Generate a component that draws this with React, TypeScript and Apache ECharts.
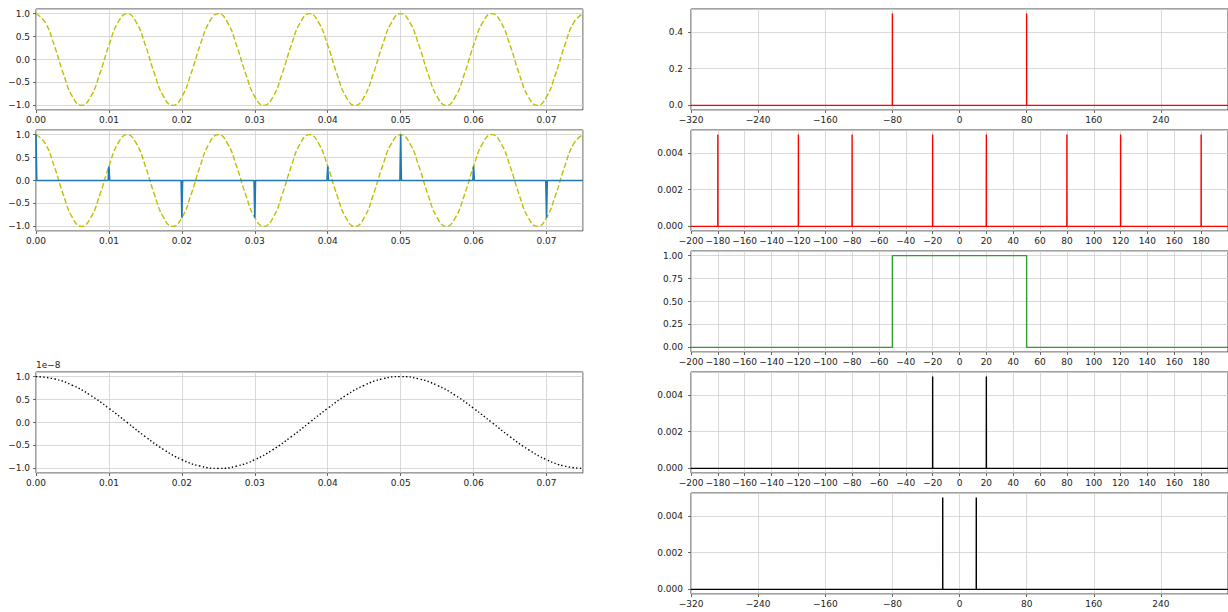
import React, { useEffect, useRef } from "react";
import * as echarts from "echarts";

// ---------- data ----------
// original 80 Hz cosine, read every 0.00125 s
const signalStep = 0.00125;
const originalSignal = [
  1, 0.81, 0.31, -0.31, -0.81, -1, -0.81, -0.31, 0.31, 0.81,
  1, 0.81, 0.31, -0.31, -0.81, -1, -0.81, -0.31, 0.31, 0.81,
  1, 0.81, 0.31, -0.31, -0.81, -1, -0.81, -0.31, 0.31, 0.81,
  1, 0.81, 0.31, -0.31, -0.81, -1, -0.81, -0.31, 0.31, 0.81,
  1, 0.81, 0.31, -0.31, -0.81, -1, -0.81, -0.31, 0.31, 0.81,
  1, 0.81, 0.31, -0.31, -0.81, -1, -0.81, -0.31, 0.31, 0.81,
  1,
];
// samples (100 Hz sampling)
const sampleTimes = [0, 0.01, 0.02, 0.03, 0.04, 0.05, 0.06, 0.07];
const sampleValues = [1, 0.31, -0.81, -0.81, 0.31, 1, 0.31, -0.81];
// reconstructed 20 Hz signal, in units of 1e-8, read every 0.0025 s
const reconStep = 0.0025;
const reconstructed = [
  1, 0.95, 0.81, 0.59, 0.31, 0, -0.31, -0.59, -0.81, -0.95,
  -1, -0.95, -0.81, -0.59, -0.31, 0, 0.31, 0.59, 0.81, 0.95,
  1, 0.95, 0.81, 0.59, 0.31, 0, -0.31, -0.59, -0.81, -0.95,
  -1,
];
// spectra
const spectrumFreqs = [-80, 80];
const spectrumAmps = [0.5, 0.5];
const sampledFreqs = [-180, -120, -80, -20, 20, 80, 120, 180];
const sampledAmps = [0.005, 0.005, 0.005, 0.005, 0.005, 0.005, 0.005, 0.005];
const filterFreqs = [-200, -50, -50, 50, 50, 200];
const filterGain = [0, 0, 1, 1, 0, 0];
const filteredFreqs = [-20, 20];
const filteredAmps = [0.005, 0.005];
const outputFreqs = [-20, 20];
const outputAmps = [0.005, 0.005];

// ---------- helpers ----------
const MINUS = "\u2212";
const fmt = (d: number) => (v: number) => {
  const s = (Math.abs(v) < 1e-12 ? 0 : v).toFixed(d);
  return s.replace("-", MINUS);
};
const FONT = "DejaVu Sans";
const GRID_COLOR = "#cfcfcf";
const SPINE = "#444";
const TXT = "#222";

function regular(step: number, vals: number[]) {
  return vals.map((v, i) => [+(i * step).toFixed(6), v]);
}
function spikes(freqs: number[], amps: number[], lo: number, hi: number, half: number) {
  const pts: number[][] = [[lo, 0]];
  freqs.forEach((f, i) => {
    pts.push([f - half, 0], [f, amps[i]], [f + half, 0]);
  });
  pts.push([hi, 0]);
  return pts;
}
function sampledLine(times: number[], vals: number[], end: number, half: number) {
  const pts: number[][] = [];
  times.forEach((t, i) => {
    if (t - half > 0) pts.push([t - half, 0]);
    pts.push([t, vals[i]]);
    pts.push([t + half, 0]);
  });
  pts.push([end, 0]);
  return pts;
}

const H = 101;
const rowTop = [9, 130, 251, 372, 493];
const leftCol = { left: 36, width: 547 };
const rightCol = { left: 691, width: 545 };

function grid(col: any, row: number) {
  return {
    left: col.left,
    width: col.width,
    top: rowTop[row],
    height: H,
    show: true,
    borderColor: SPINE,
    borderWidth: 1,
    backgroundColor: "#fff",
    containLabel: false,
  };
}

function xAxis(gi: number, min: number, max: number, interval: number, dec: number) {
  return {
    type: "value",
    gridIndex: gi,
    position: "bottom",
    min,
    max,
    interval,
    axisLine: { show: false, onZero: false },
    axisTick: { show: true, length: 3, inside: false, lineStyle: { color: SPINE, width: 0.8 } },
    axisLabel: {
      fontSize: 9,
      color: TXT,
      fontFamily: FONT,
      margin: 5,
      showMaxLabel: false,
      formatter: fmt(dec),
    },
    splitLine: { show: true, lineStyle: { color: GRID_COLOR, width: 0.8 } },
  };
}

function yAxis(gi: number, min: number, max: number, interval: number, dec: number, margin: number, extra: any = {}) {
  return {
    type: "value",
    gridIndex: gi,
    position: "left",
    min,
    max,
    minInterval: interval,
    maxInterval: interval,
    splitNumber: 3,
    axisLine: { show: false, onZero: false },
    axisTick: { show: true, length: 3, inside: false, lineStyle: { color: SPINE, width: 0.8 } },
    axisLabel: {
      fontSize: 9,
      color: TXT,
      fontFamily: FONT,
      margin,
      showMinLabel: false,
      showMaxLabel: false,
      formatter: fmt(dec),
    },
    splitLine: { show: true, lineStyle: { color: GRID_COLOR, width: 0.8 } },
    ...extra,
  };
}

function line(gi: number, data: number[][], color: string, type: any, extra: any = {}) {
  return {
    type: "line",
    xAxisIndex: gi,
    yAxisIndex: gi,
    data,
    showSymbol: false,
    symbol: "none",
    lineStyle: { color, width: 1.4, type },
    silent: true,
    ...extra,
  };
}

export default function App() {
  const ref = useRef<HTMLDivElement>(null);
  useEffect(() => {
    if (!ref.current) return;
    const chart = echarts.init(ref.current, null, { renderer: "svg" });
    const orig = regular(signalStep, originalSignal);
    const recon = regular(reconStep, reconstructed);
    const dashed = [5.5, 2.4];
    const dotted = [1.4, 2.3];
    const option: any = {
      animation: false,
      backgroundColor: "#fff",
      grid: [
        grid(leftCol, 0), // 0 L1
        grid(leftCol, 1), // 1 L2
        grid(leftCol, 3), // 2 L3
        grid(rightCol, 0), // 3 R1
        grid(rightCol, 1), // 4 R2
        grid(rightCol, 2), // 5 R3
        grid(rightCol, 3), // 6 R4
        grid(rightCol, 4), // 7 R5
      ],
      xAxis: [
        xAxis(0, 0, 0.075, 0.01, 2),
        xAxis(1, 0, 0.075, 0.01, 2),
        xAxis(2, 0, 0.075, 0.01, 2),
        xAxis(3, -320, 320, 80, 0),
        xAxis(4, -200, 200, 20, 0),
        xAxis(5, -200, 200, 20, 0),
        xAxis(6, -200, 200, 20, 0),
        xAxis(7, -320, 320, 80, 0),
      ],
      yAxis: [
        yAxis(0, -1.1, 1.1, 0.5, 1, 6),
        yAxis(1, -1.1, 1.1, 0.5, 1, 6),
        yAxis(2, -1.1, 1.1, 0.5, 1, 6, {
          name: "1e" + MINUS + "8",
          nameLocation: "end",
          nameGap: 3,
          nameTextStyle: { fontSize: 9, color: TXT, fontFamily: FONT, align: "left", verticalAlign: "bottom" },
        }),
        yAxis(3, -0.025, 0.525, 0.2, 1, 8),
        yAxis(4, -0.00025, 0.00525, 0.002, 3, 8),
        yAxis(5, -0.05, 1.05, 0.25, 2, 8),
        yAxis(6, -0.00025, 0.00525, 0.002, 3, 8),
        yAxis(7, -0.00025, 0.00525, 0.002, 3, 8),
      ],
      series: [
        line(0, orig, "#bfbf00", dashed, { smooth: true }),
        line(1, orig, "#bfbf00", dashed, { smooth: true }),
        line(1, sampledLine(sampleTimes, sampleValues, 0.075, 0.0001), "#1f77b4", "solid", { lineStyle: { color: "#1f77b4", width: 1.6 } }),
        line(2, recon, "#000", dotted, { smooth: true }),
        line(3, spikes(spectrumFreqs, spectrumAmps, -320, 320, 0.05), "#ff0000", "solid"),
        line(4, spikes(sampledFreqs, sampledAmps, -200, 200, 0.05), "#ff0000", "solid"),
        line(5, filterFreqs.map((f, i) => [f, filterGain[i]]), "#2ca02c", "solid"),
        line(6, spikes(filteredFreqs, filteredAmps, -200, 200, 0.05), "#000", "solid"),
        line(7, spikes(outputFreqs, outputAmps, -320, 320, 0.05), "#000", "solid"),
      ],
    };
    chart.setOption(option);
    return () => chart.dispose();
  }, []);
  return (
    <div
      ref={ref}
      style={{ position: "absolute", left: 0, top: 0, width: 1228, height: 612, background: "#fff" }}
    />
  );
}
